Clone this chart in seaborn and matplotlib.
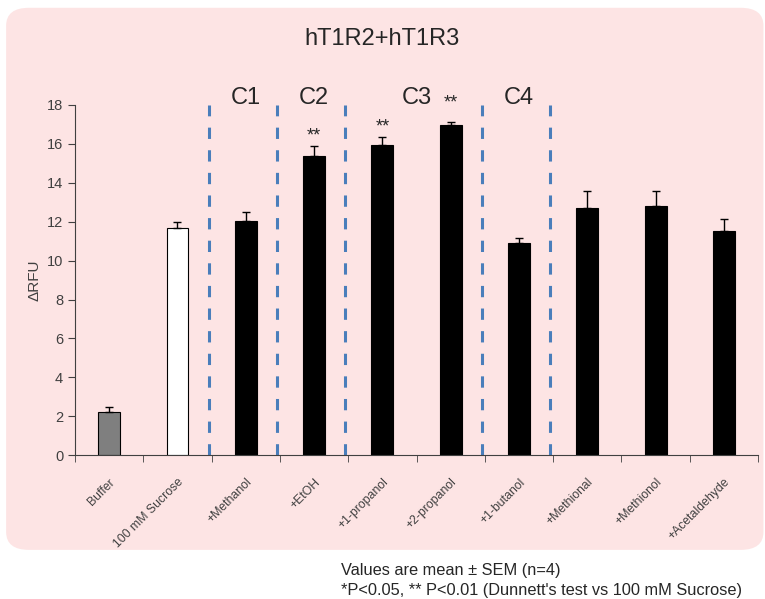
import numpy as np
import pandas as pd
import seaborn as sns
import matplotlib.pyplot as plt
from matplotlib.patches import FancyBboxPatch

# Data
labels = ["Buffer", "100 mM Sucrose", "+Methanol", "+EtOH", "+1-propanol",
          "+2-propanol", "+1-butanol", "+Methional", "+Methionol", "+Acetaldehyde"]
means = [2.2, 11.65, 12.05, 15.35, 15.95, 16.95, 10.9, 12.7, 12.8, 11.5]
sems = [0.3, 0.35, 0.45, 0.55, 0.4, 0.15, 0.25, 0.85, 0.75, 0.65]
bar_colors = ["#7f7f7f", "#ffffff"] + ["#000000"] * 8
# significance marks (category index -> text)
sig_idx = [3, 4, 5]
sig_text = ["**", "**", "**"]
# class separators and labels
sep_pos = [1.5, 2.5, 3.5, 5.5, 6.5]
class_names = ["C1", "C2", "C3", "C4"]
class_pos = [2, 3, 4.5, 6]

df = pd.DataFrame({"label": labels, "mean": means, "sem": sems})

sns.set_style("ticks")
plt.rcParams['font.family'] = ['Liberation Sans', 'DejaVu Sans']

fig = plt.figure(figsize=(7.65, 5.99), dpi=100)
bg = "#fde4e4"
fig.patches.append(FancyBboxPatch((0.008, 0.082), 0.99, 0.905,
                                  boxstyle="round,pad=0,rounding_size=0.03",
                                  transform=fig.transFigure, facecolor=bg,
                                  edgecolor="none", zorder=-5))

ax = fig.add_axes([0.098, 0.240, 0.893, 0.585])
ax.set_facecolor("none")

sns.barplot(data=df, x="label", y="mean", hue="label", palette=bar_colors,
            legend=False, width=0.32, edgecolor="black", linewidth=0.8, ax=ax)
x = np.arange(len(labels))
ax.errorbar(x, means, yerr=[np.zeros(len(sems)), sems], fmt="none",
            ecolor="black", elinewidth=1, capsize=3, capthick=1)

for p in sep_pos:
    ax.plot([p - 0.04, p - 0.04], [0, 18], color="#4a7ebb", lw=2.2,
            dashes=(3.7, 3.7), clip_on=False, zorder=0.5)

for name, p in zip(class_names, class_pos):
    ax.text(p, 18.35, name, ha="center", va="center", fontsize=17)

for i, t in zip(sig_idx, sig_text):
    y = means[i] + sems[i] + 0.05
    if i == 5:
        ax.text(i, 17.65, t, ha="center", va="bottom", fontsize=13)
    else:
        ax.text(i, y, t, ha="center", va="bottom", fontsize=13)

ax.set_ylim(0, 18)
ax.set_yticks(np.arange(0, 19, 2))
ax.set_xlim(-0.5, 9.5)
ax.set_xticks(x)
ax.set_xticklabels(labels, rotation=45, ha="right", rotation_mode="anchor",
                   fontsize=8.8, color="#404040")
ax.tick_params(axis="x", length=0, pad=15)
ax.set_xticks(np.arange(-0.5, 10, 1), minor=True)
ax.tick_params(axis="x", which="minor", length=5, color="#404040")
ax.tick_params(axis="y", labelsize=10.5, labelcolor="#404040", color="#404040", length=5)
ax.set_xlabel("")
ax.set_ylabel("ΔRFU", fontsize=11, color="#404040", labelpad=4)
for s in ["left", "bottom"]:
    ax.spines[s].set_color("#404040")
sns.despine(ax=ax)

fig.text(0.5, 0.935, "hT1R2+hT1R3", ha="center", va="center", fontsize=17)
fig.text(0.446, 0.047, "Values are mean ± SEM (n=4)", fontsize=11.8, va="center")
fig.text(0.446, 0.014, "*P<0.05, ** P<0.01 (Dunnett's test vs 100 mM Sucrose)",
         fontsize=11.8, va="center")

fig.savefig("out.png", dpi=100, facecolor="white")
